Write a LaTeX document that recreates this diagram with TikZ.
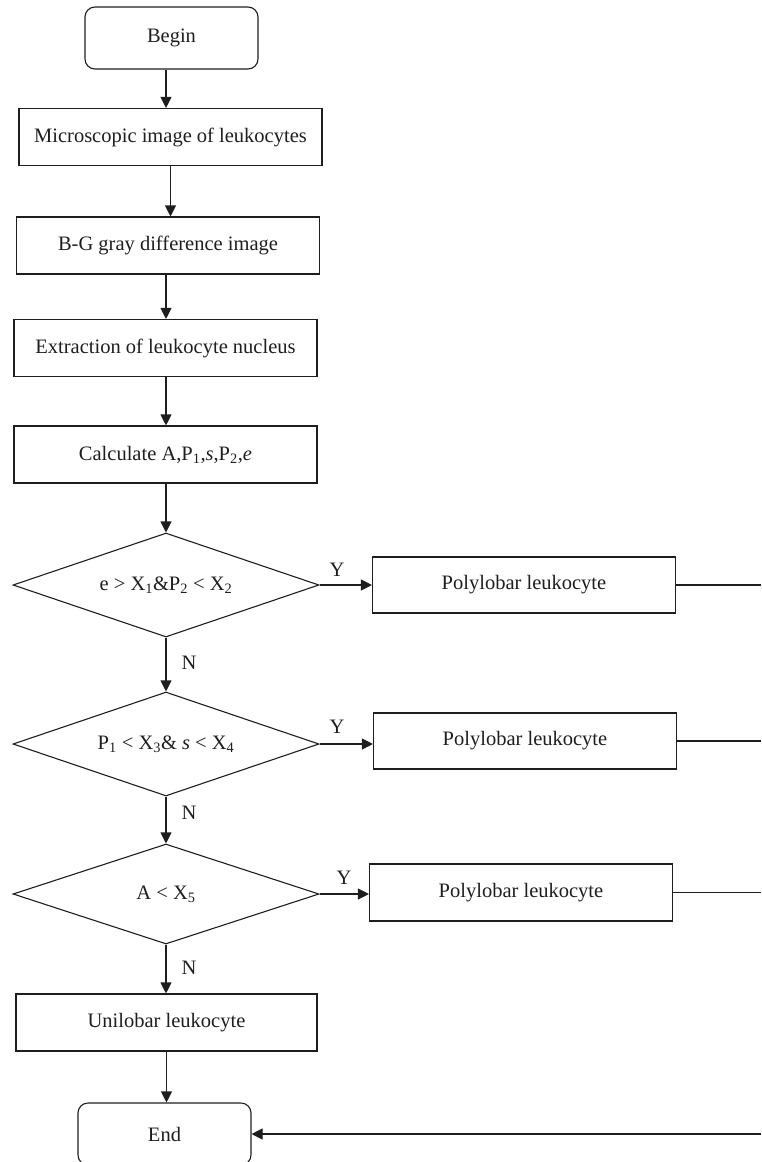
\documentclass[tikz,border=0pt]{standalone}
\usepackage{fontspec}
\setmainfont{Liberation Serif}
\usetikzlibrary{shapes.geometric,arrows.meta}
\definecolor{ink}{RGB}{30,30,30}
\begin{document}
\begin{tikzpicture}[x=1pt,y=-1pt,
  every node/.style={font=\fontsize{20.5}{24}\selectfont, text=ink},
  box/.style={draw=ink, line width=1.1pt, minimum width=303pt, minimum height=57pt, inner sep=0pt},
  term/.style={box, rounded corners=10pt, minimum width=173pt, minimum height=62pt},
  cond/.style={draw=ink, diamond, shape aspect=3, line width=1.1pt, minimum width=306pt, minimum height=104pt, inner sep=0pt},
  arr/.style={draw=ink, line width=1.1pt, -{Triangle[length=11pt,width=11pt]}},
  ln/.style={draw=ink, line width=1.1pt},
  lbl/.style={inner sep=0pt}
]
\useasboundingbox (0,0) rectangle (761,1162);
\clip (0,0) rectangle (761,1162);

\node[term] (begin) at (171.5,38) {Begin};
\node[box] (b1) at (170.5,137) {Microscopic image of leukocytes};
\node[box] (b2) at (168,245.5) {B-G gray difference image};
\node[box] (b3) at (165.5,348) {Extraction of leukocyte nucleus};
\node[box] (b4) at (165.5,454.5) {Calculate A,P\textsubscript{1},\textit{s},P\textsubscript{2},\textit{e}};

\node[cond] (d1) at (166,585) {e > X\textsubscript{1}\&P\textsubscript{2} < X\textsubscript{2}};
\node[box, minimum height=56pt] (p1) at (524,585) {Polylobar leukocyte};

\node[cond] (d2) at (166,744) {P\textsubscript{1} < X\textsubscript{3}\& \textit{s} < X\textsubscript{4}};
\node[box, minimum height=56pt] (p2) at (525,741) {Polylobar leukocyte};

\node[cond, minimum height=100pt] (d3) at (166,894) {A < X\textsubscript{5}};
\node[box] (p3) at (521,892.5) {Polylobar leukocyte};

\node[box, minimum width=301pt] (uni) at (166.5,1022.5) {Unilobar leukocyte};
\node[term] (end) at (164.5,1134) {End};

\coordinate (redge) at (761,0);
\coordinate (rend) at (761,1134);

\draw[arr] (begin.south -| d1) -- (b1.north -| d1);
\draw[arr] (b1.south) -- (b1.south |- b2.north);
\draw[arr] (b2.south -| d1) -- (b3.north -| d1);
\draw[arr] (b3.south -| d1) -- (b4.north -| d1);
\draw[arr] (b4.south -| d1) -- (d1.north);
\draw[arr] (d1.south) -- (d2.north);
\draw[arr] (d2.south) -- (d3.north);
\draw[arr] (d3.south) -- (d3.south |- uni.north);
\draw[arr] (uni.south) -- (uni.south |- end.north);

\draw[arr] (d1.east) -- (d1.east -| p1.west);
\draw[arr] (d2.east) -- (d2.east -| p2.west);
\draw[arr] (d3.east) -- (d3.east -| p3.west);

\draw[ln] (p1.east) -- (p1.east -| redge);
\draw[ln] (p2.east) -- (p2.east -| redge);
\draw[ln] (p3.east) -- (p3.east -| redge);
\draw[arr] (rend) -- (end.east);

\node[lbl] (y1) at (337,570) {Y};
\node[lbl] (y2) at (337,727) {Y};
\node[lbl] (y3) at (344,878) {Y};
\node[lbl] (n1) at (189,663) {N};
\node[lbl] (n2) at (189,813) {N};
\node[lbl] (n3) at (189,968) {N};
\end{tikzpicture}
\end{document}
